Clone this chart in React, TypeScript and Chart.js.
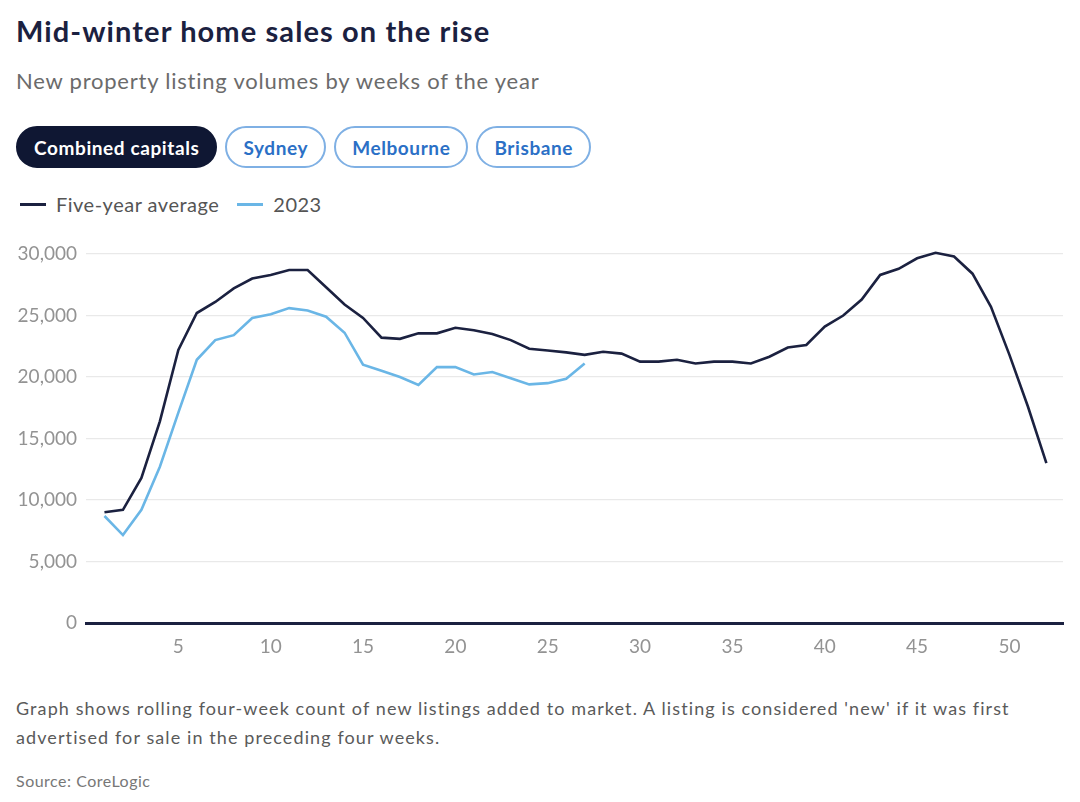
import React, { useEffect, useRef } from "react";
import { Chart, registerables } from "chart.js";

Chart.register(...registerables);

// ---- Data ----
const weeks = [
  1, 2, 3, 4, 5, 6, 7, 8, 9, 10, 11, 12, 13, 14, 15, 16, 17, 18, 19, 20, 21, 22, 23, 24, 25, 26,
  27, 28, 29, 30, 31, 32, 33, 34, 35, 36, 37, 38, 39, 40, 41, 42, 43, 44, 45, 46, 47, 48, 49, 50, 51, 52,
];

const fiveYearAverage = [
  9000, 9200, 11800, 16400, 22200, 25200, 26100, 27200, 28000, 28300, 28700, 28700, 27300, 25900,
  24800, 23200, 23100, 23550, 23550, 24000, 23800, 23500, 23000, 22300, 22150, 22000, 21800, 22050,
  21900, 21250, 21250, 21400, 21100, 21250, 21250, 21100, 21650, 22400, 22600, 24100, 25000, 26300,
  28300, 28800, 29650, 30100, 29800, 28400, 25700, 21800, 17600, 13000,
];

const values2023 = [
  8700, 7150, 9200, 12700, 17100, 21400, 23000, 23400, 24800, 25100, 25600, 25400, 24900, 23600,
  21000, 20500, 20000, 19350, 20800, 20800, 20200, 20400, 19900, 19400, 19500, 19850, 21100,
];

const xTickValues = [5, 10, 15, 20, 25, 30, 35, 40, 45, 50];
const yTickValues = [0, 5000, 10000, 15000, 20000, 25000, 30000];

const seriesLabels = ["Five-year average", "2023"];
const filterLabels = ["Combined capitals", "Sydney", "Melbourne", "Brisbane"];

const titleText = "Mid-winter home sales on the rise";
const subtitleText = "New property listing volumes by weeks of the year";
const noteText =
  "Graph shows rolling four-week count of new listings added to market. A listing is considered 'new' if it was first advertised for sale in the preceding four weeks.";
const sourceText = "Source: CoreLogic";

// ---- Styles ----
const NAVY = "#1b2140";
const BLUE = "#6ab6e6";
const FONT = "Lato, 'Noto Sans', sans-serif";

export default function App() {
  const canvasRef = useRef<HTMLCanvasElement | null>(null);

  useEffect(() => {
    if (!canvasRef.current) return;
    const chart = new Chart(canvasRef.current, {
      type: "line",
      data: {
        datasets: [
          {
            label: seriesLabels[0],
            data: weeks.map((w, i) => ({ x: w, y: fiveYearAverage[i] })),
            borderColor: NAVY,
            backgroundColor: NAVY,
            borderWidth: 2.6,
            pointRadius: 0,
            tension: 0,
            clip: 8,
          },
          {
            label: seriesLabels[1],
            data: values2023.map((v, i) => ({ x: weeks[i], y: v })),
            borderColor: BLUE,
            backgroundColor: BLUE,
            borderWidth: 2.6,
            pointRadius: 0,
            tension: 0,
            clip: 8,
          },
        ],
      },
      options: {
        animation: false,
        responsive: false,
        maintainAspectRatio: false,
        layout: { padding: { top: 24, right: 17, left: 0, bottom: 0 } },
        plugins: {
          legend: { display: false },
          tooltip: { enabled: false },
        },
        scales: {
          x: {
            type: "linear",
            min: 0,
            max: 52.9,
            afterBuildTicks: (s: any) => {
              s.ticks = xTickValues.map((v) => ({ value: v }));
            },
            afterFit: (s: any) => {
              s.height = 47;
            },
            grid: { display: false, drawTicks: false },
            border: { display: true, color: NAVY, width: 3 },
            ticks: {
              color: "#939393",
              font: { family: FONT, size: 19 },
              padding: 12,
              maxRotation: 0,
              autoSkip: false,
              callback: (v: any) => String(v),
            },
          },
          y: {
            min: 0,
            max: 30000,
            afterBuildTicks: (s: any) => {
              s.ticks = yTickValues.map((v) => ({ value: v }));
            },
            afterFit: (s: any) => {
              s.width = 86;
            },
            grid: { color: "#e9e9e9", lineWidth: 1.3, drawTicks: false },
            border: { display: false },
            ticks: {
              color: "#939393",
              font: { family: FONT, size: 19 },
              padding: 9,
              callback: (v: any) => Number(v).toLocaleString("en-US"),
            },
          },
        },
      },
    });
    return () => chart.destroy();
  }, []);

  const pill = (label: string, i: number) => {
    const active = i === 0;
    return (
      <div
        key={label}
        style={{
          height: 42,
          boxSizing: "border-box",
          padding: "0 16px",
          borderRadius: 21,
          display: "flex",
          alignItems: "center",
          fontFamily: FONT,
          fontWeight: 700,
          fontSize: 19,
          letterSpacing: 0.6,
          background: active ? "#0f1733" : "#ffffff",
          color: active ? "#ffffff" : "#2b70c6",
          border: active ? "2px solid #0f1733" : "2px solid #7fb0e4",
          whiteSpace: "nowrap",
        }}
      >
        {label}
      </div>
    );
  };

  return (
    <div
      style={{
        position: "absolute",
        left: 0,
        top: 0,
        width: 1080,
        height: 802,
        background: "#ffffff",
        overflow: "hidden",
        fontFamily: FONT,
      }}
    >
      <div
        style={{
          position: "absolute",
          left: 16,
          top: 14,
          fontSize: 29,
          letterSpacing: 1.1,
          lineHeight: 1.2,
          fontWeight: 700,
          color: NAVY,
          whiteSpace: "nowrap",
        }}
      >
        {titleText}
      </div>
      <div
        style={{
          position: "absolute",
          left: 16,
          top: 68,
          fontSize: 22,
          letterSpacing: 0.78,
          lineHeight: 1.2,
          color: "#6b6b6b",
          whiteSpace: "nowrap",
        }}
      >
        {subtitleText}
      </div>
      <div
        style={{
          position: "absolute",
          left: 16,
          top: 126,
          display: "flex",
          gap: 8,
        }}
      >
        {filterLabels.map(pill)}
      </div>
      <div
        style={{
          position: "absolute",
          left: 20,
          top: 192,
          height: 24,
          display: "flex",
          alignItems: "center",
          fontSize: 20,
          letterSpacing: 0.5,
          color: "#555555",
          whiteSpace: "nowrap",
        }}
      >
        <span style={{ display: "inline-block", width: 26, height: 3, background: NAVY, marginRight: 10 }} />
        <span style={{ marginRight: 18 }}>{seriesLabels[0]}</span>
        <span style={{ display: "inline-block", width: 26, height: 3, background: BLUE, marginRight: 10 }} />
        <span>{seriesLabels[1]}</span>
      </div>
      <div style={{ position: "absolute", left: 0, top: 230, width: 1080, height: 440 }}>
        <canvas ref={canvasRef} width={1080} height={440} style={{ width: 1080, height: 440, display: "block" }} />
      </div>
      <div
        style={{
          position: "absolute",
          left: 16,
          top: 694,
          width: 1040,
          fontSize: 18,
          letterSpacing: 1.1,
          lineHeight: "29px",
          color: "#5a5a5a",
        }}
      >
        {noteText}
      </div>
      <div
        style={{
          position: "absolute",
          left: 16,
          top: 771,
          fontSize: 16,
          letterSpacing: 0.5,
          lineHeight: 1.2,
          color: "#777777",
          whiteSpace: "nowrap",
        }}
      >
        {sourceText}
      </div>
    </div>
  );
}
